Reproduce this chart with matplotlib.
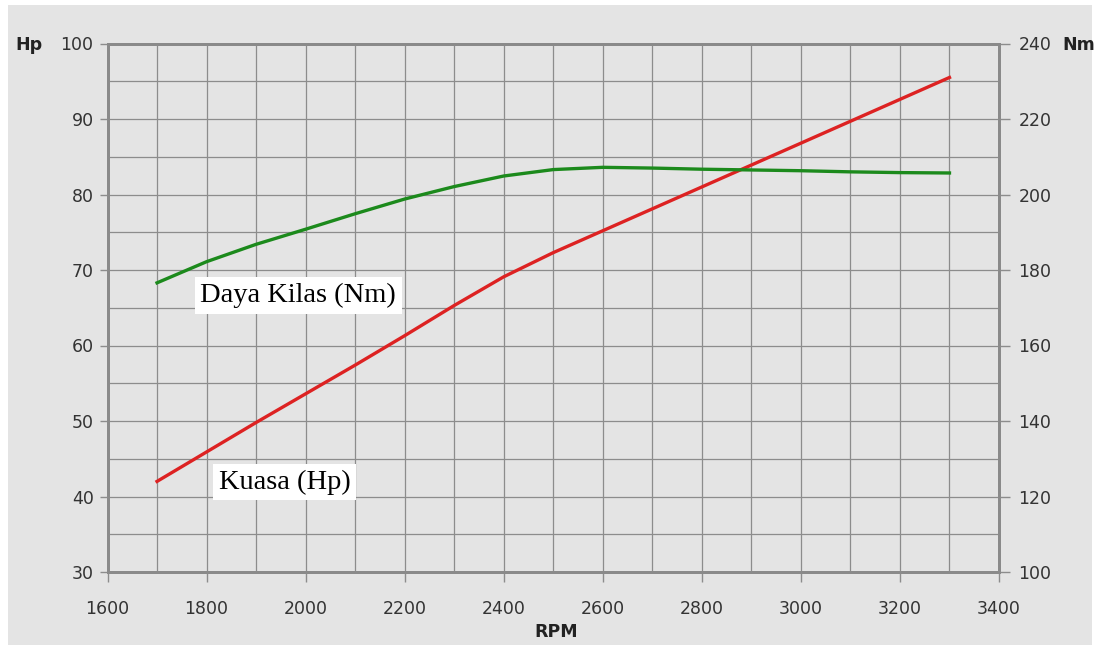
import matplotlib.pyplot as plt
from matplotlib.patches import Rectangle
import numpy as np

# data
rpm = [1700, 1800, 1900, 2000, 2100, 2200, 2300, 2400, 2500,
       2600, 2700, 2800, 2900, 3000, 3100, 3200, 3300]
kuasa_hp = [42.0, 45.9, 49.8, 53.6, 57.4, 61.3, 65.3, 69.1, 72.3,
            75.2, 78.1, 81.0, 83.9, 86.8, 89.7, 92.6, 95.5]
daya_kilas_nm = [176.6, 182.2, 186.8, 190.8, 194.9, 198.8, 202.1, 204.9, 206.6,
                 207.2, 207.0, 206.7, 206.5, 206.3, 206.0, 205.8, 205.7]

x_ticks = [1600, 1800, 2000, 2200, 2400, 2600, 2800, 3000, 3200, 3400]
hp_ticks = [30, 40, 50, 60, 70, 80, 90, 100]
nm_ticks = [100, 120, 140, 160, 180, 200, 220, 240]

bg = '#e4e4e4'
grid_c = '#8c8c8c'
text_c = '#333333'

fig = plt.figure(figsize=(10.98, 6.45), dpi=100, facecolor='white')
fig.patches.append(Rectangle((8 / 1098, 0), (1092 - 8) / 1098, 1 - 5 / 645,
                             transform=fig.transFigure, facecolor=bg,
                             edgecolor='none', zorder=-10))

ax = fig.add_axes([107.5 / 1098, 1 - 572 / 645, (999 - 107.5) / 1098, (572 - 43.5) / 645])
ax.set_facecolor(bg)
ax2 = ax.twinx()

ax.set_xlim(1600, 3400)
ax.set_ylim(30, 100)
ax2.set_ylim(100, 240)

ax.set_xticks(x_ticks)
ax.set_xticks(np.arange(1700, 3400, 200), minor=True)
ax.set_yticks(hp_ticks)
ax.set_yticks(np.arange(35, 100, 10), minor=True)
ax2.set_yticks(nm_ticks)

ax.grid(True, which='both', color=grid_c, linewidth=0.9)
ax.set_axisbelow(True)

ax.tick_params(axis='x', which='major', length=7, width=1, color=grid_c,
               pad=13, labelsize=12.5, labelcolor=text_c)
ax.tick_params(axis='y', which='major', length=6, width=1, color=grid_c,
               pad=4, labelsize=12.5, labelcolor=text_c)
ax.tick_params(which='minor', length=0)
ax2.tick_params(axis='y', length=8, width=1, color=grid_c, pad=6,
                labelsize=12.5, labelcolor=text_c)

for a in (ax, ax2):
    for s in a.spines.values():
        s.set_color('#8a8a8a')
        s.set_linewidth(2)

ax.plot(rpm, kuasa_hp, color='#dd2222', linewidth=2.4, zorder=3)
ax2.plot(rpm, daya_kilas_nm, color='#1c8a1c', linewidth=2.4, zorder=3)

box = dict(facecolor='white', edgecolor='none', pad=4)
ax.text(1985, 66.6, 'Daya Kilas (Nm)', family='Liberation Serif', fontsize=20.5,
        ha='center', va='center', color='black', bbox=box, zorder=4)
ax.text(1958, 41.9, 'Kuasa (Hp)', family='Liberation Serif', fontsize=20.5,
        ha='center', va='center', color='black', bbox=box, zorder=4)

fig.text(29 / 1098, 1 - 45 / 645, 'Hp', fontsize=12.5, fontweight='bold',
         color='#222222', ha='center', va='center')
fig.text(1079 / 1098, 1 - 45 / 645, 'Nm', fontsize=12.5, fontweight='bold',
         color='#222222', ha='center', va='center')
fig.text(556 / 1098, 1 - 632 / 645, 'RPM', fontsize=12.5, fontweight='bold',
         color='#222222', ha='center', va='center')

fig.savefig('out.png', dpi=100, facecolor='white')
